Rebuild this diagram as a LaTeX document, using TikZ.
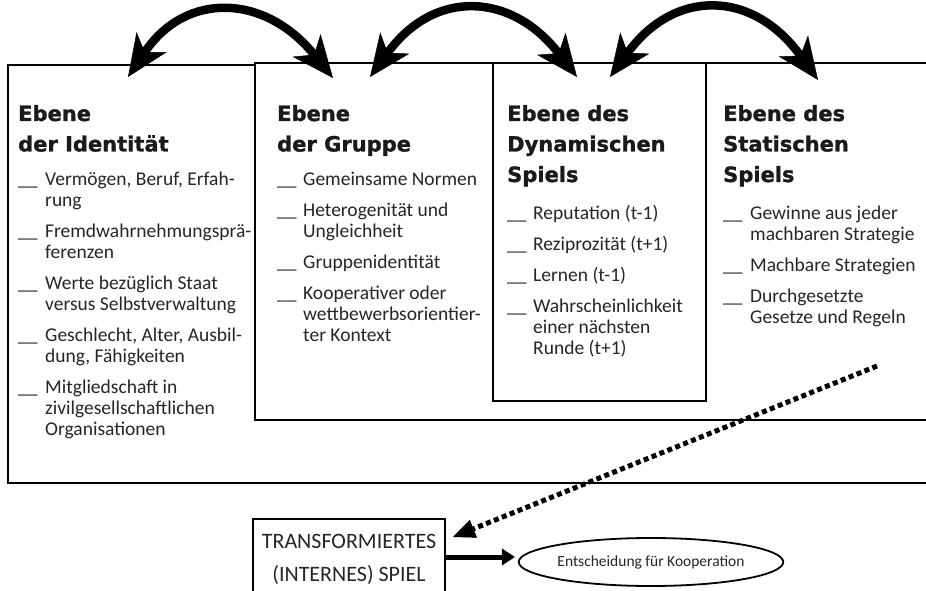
\documentclass[tikz,border=0pt]{standalone}
\usepackage{fontspec}
\setmainfont{Carlito}
\newfontfamily\headfont{DejaVu Sans}[BoldFeatures={FakeBold=1.2}]
\usetikzlibrary{arrows.meta,shapes.geometric}
\definecolor{txt}{HTML}{262626}
\definecolor{hd}{HTML}{1A1A1A}
\newcommand\toprows[1]{\begin{tabular}[t]{@{}l@{}}#1\end{tabular}}
\newcommand\lvitem[5]{%
  \node[item] (#1b) at (#2,#4) {\_\_};
  \node[item] (#1) at (#3,#4) {\toprows{#5}};}
\begin{document}
\begin{tikzpicture}[x=1pt,y=-1pt,
  levelbox/.style={draw=black,line width=2pt,fill=white},
  head/.style={font=\headfont\bfseries\fontsize{21}{30.5}\selectfont,text=hd,inner sep=0pt,anchor=base west},
  item/.style={font=\fontsize{19.5}{21}\selectfont,text=txt,inner sep=0pt,anchor=base west},
  bigtip/.tip={Stealth[length=42pt,width=36pt,inset=12pt,line width=0.5pt]},
  bigarrow/.style={line width=8.5pt,bigtip-bigtip},
  dotarrow/.style={line width=5pt,dash pattern=on 5pt off 3.5pt,-{Triangle[length=22pt,width=19pt,line width=0.5pt]}},
  solidarrow/.style={line width=5pt,-{Triangle[length=13pt,width=17pt,line width=0.5pt]}}
]
\useasboundingbox (0,0) rectangle (926,591);
\fill[white] (0,0) rectangle (926,591);
\clip (0,0) rectangle (926,591);

% level boxes
\draw[levelbox] (8,65) rectangle (940,483);
\draw[levelbox] (255,63) rectangle (940,420);
\draw[levelbox] (493,63) rectangle (706,401);

% headings
\node[head] (h1) at (18,121) {\toprows{Ebene\\der Identität}};
\node[head] (h2) at (277,121) {\toprows{Ebene\\der Gruppe}};
\node[head] (h3) at (507,121) {\toprows{Ebene des\\Dynamischen\\Spiels}};
\node[head] (h4) at (723,121) {\toprows{Ebene des\\Statischen\\Spiels}};

% column 1
\lvitem{i11}{18}{45}{185}{Vermögen, Beruf, Erfah-\\rung}
\lvitem{i12}{18}{45}{237}{Fremdwahrnehmungsprä-\\ferenzen}
\lvitem{i13}{18}{45}{289}{Werte bezüglich Staat\\versus Selbstverwaltung}
\lvitem{i14}{18}{45}{341}{Geschlecht, Alter, Ausbil-\\dung, Fähigkeiten}
\lvitem{i15}{18}{45}{393}{Mitgliedschaft in\\zivilgesellschaftlichen\\Organisationen}

% column 2
\lvitem{i21}{277}{303}{185}{Gemeinsame Normen}
\lvitem{i22}{277}{303}{216}{Heterogenität und\\Ungleichheit}
\lvitem{i23}{277}{303}{268}{Gruppenidentität}
\lvitem{i24}{277}{303}{299}{Kooperativer oder\\wettbewerbsorientier-\\ter Kontext}

% column 3
\lvitem{i31}{507}{533}{219}{Reputation (t-1)}
\lvitem{i32}{507}{533}{250}{Reziprozität (t+1)}
\lvitem{i33}{507}{533}{281}{Lernen (t-1)}
\lvitem{i34}{507}{533}{312}{Wahrscheinlichkeit\\einer nächsten\\Runde (t+1)}

% column 4
\lvitem{i41}{723}{750}{219}{Gewinne aus jeder\\machbaren Strategie}
\lvitem{i42}{723}{750}{271}{Machbare Strategien}
\lvitem{i43}{723}{750}{302}{Durchgesetzte\\Gesetze und Regeln}

% top double arrows
\coordinate (a1l) at (128,77);
\coordinate (a1r) at (333,78);
\coordinate (a2l) at (370,77);
\coordinate (a2r) at (577,77);
\coordinate (a3l) at (610,77);
\coordinate (a3r) at (818,80);
\draw[bigarrow] (a1l) .. controls (186,-9) and (265,-6) .. (a1r);
\draw[bigarrow] (a2l) .. controls (435,-12) and (512,-7) .. (a2r);
\draw[bigarrow] (a3l) .. controls (675,-12) and (753,-10) .. (a3r);

% bottom part
\draw[line width=2pt] (253,600) -- (253,519) -- (445,519) -- (445,600);
\node[font=\fontsize{22}{33}\selectfont,text=txt,anchor=base,inner sep=0pt] (tr) at (349,548) {\begin{tabular}[t]{@{}c@{}}TRANSFORMIERTES\\(INTERNES) SPIEL\end{tabular}};
\node[draw=black,line width=1.8pt,ellipse,minimum width=208pt,minimum height=48pt,inner sep=0pt,font=\fontsize{15.5}{18}\selectfont,text=txt] (dec) at (651,562) {Entscheidung für Kooperation};
\coordinate (trE) at (445,557);
\draw[solidarrow,shorten >=3pt] (trE) -- (trE -| dec.west);

\coordinate (ds) at (877,366);
\coordinate (de) at (453,537);
\draw[dotarrow] (ds) -- (de);
\end{tikzpicture}
\end{document}
